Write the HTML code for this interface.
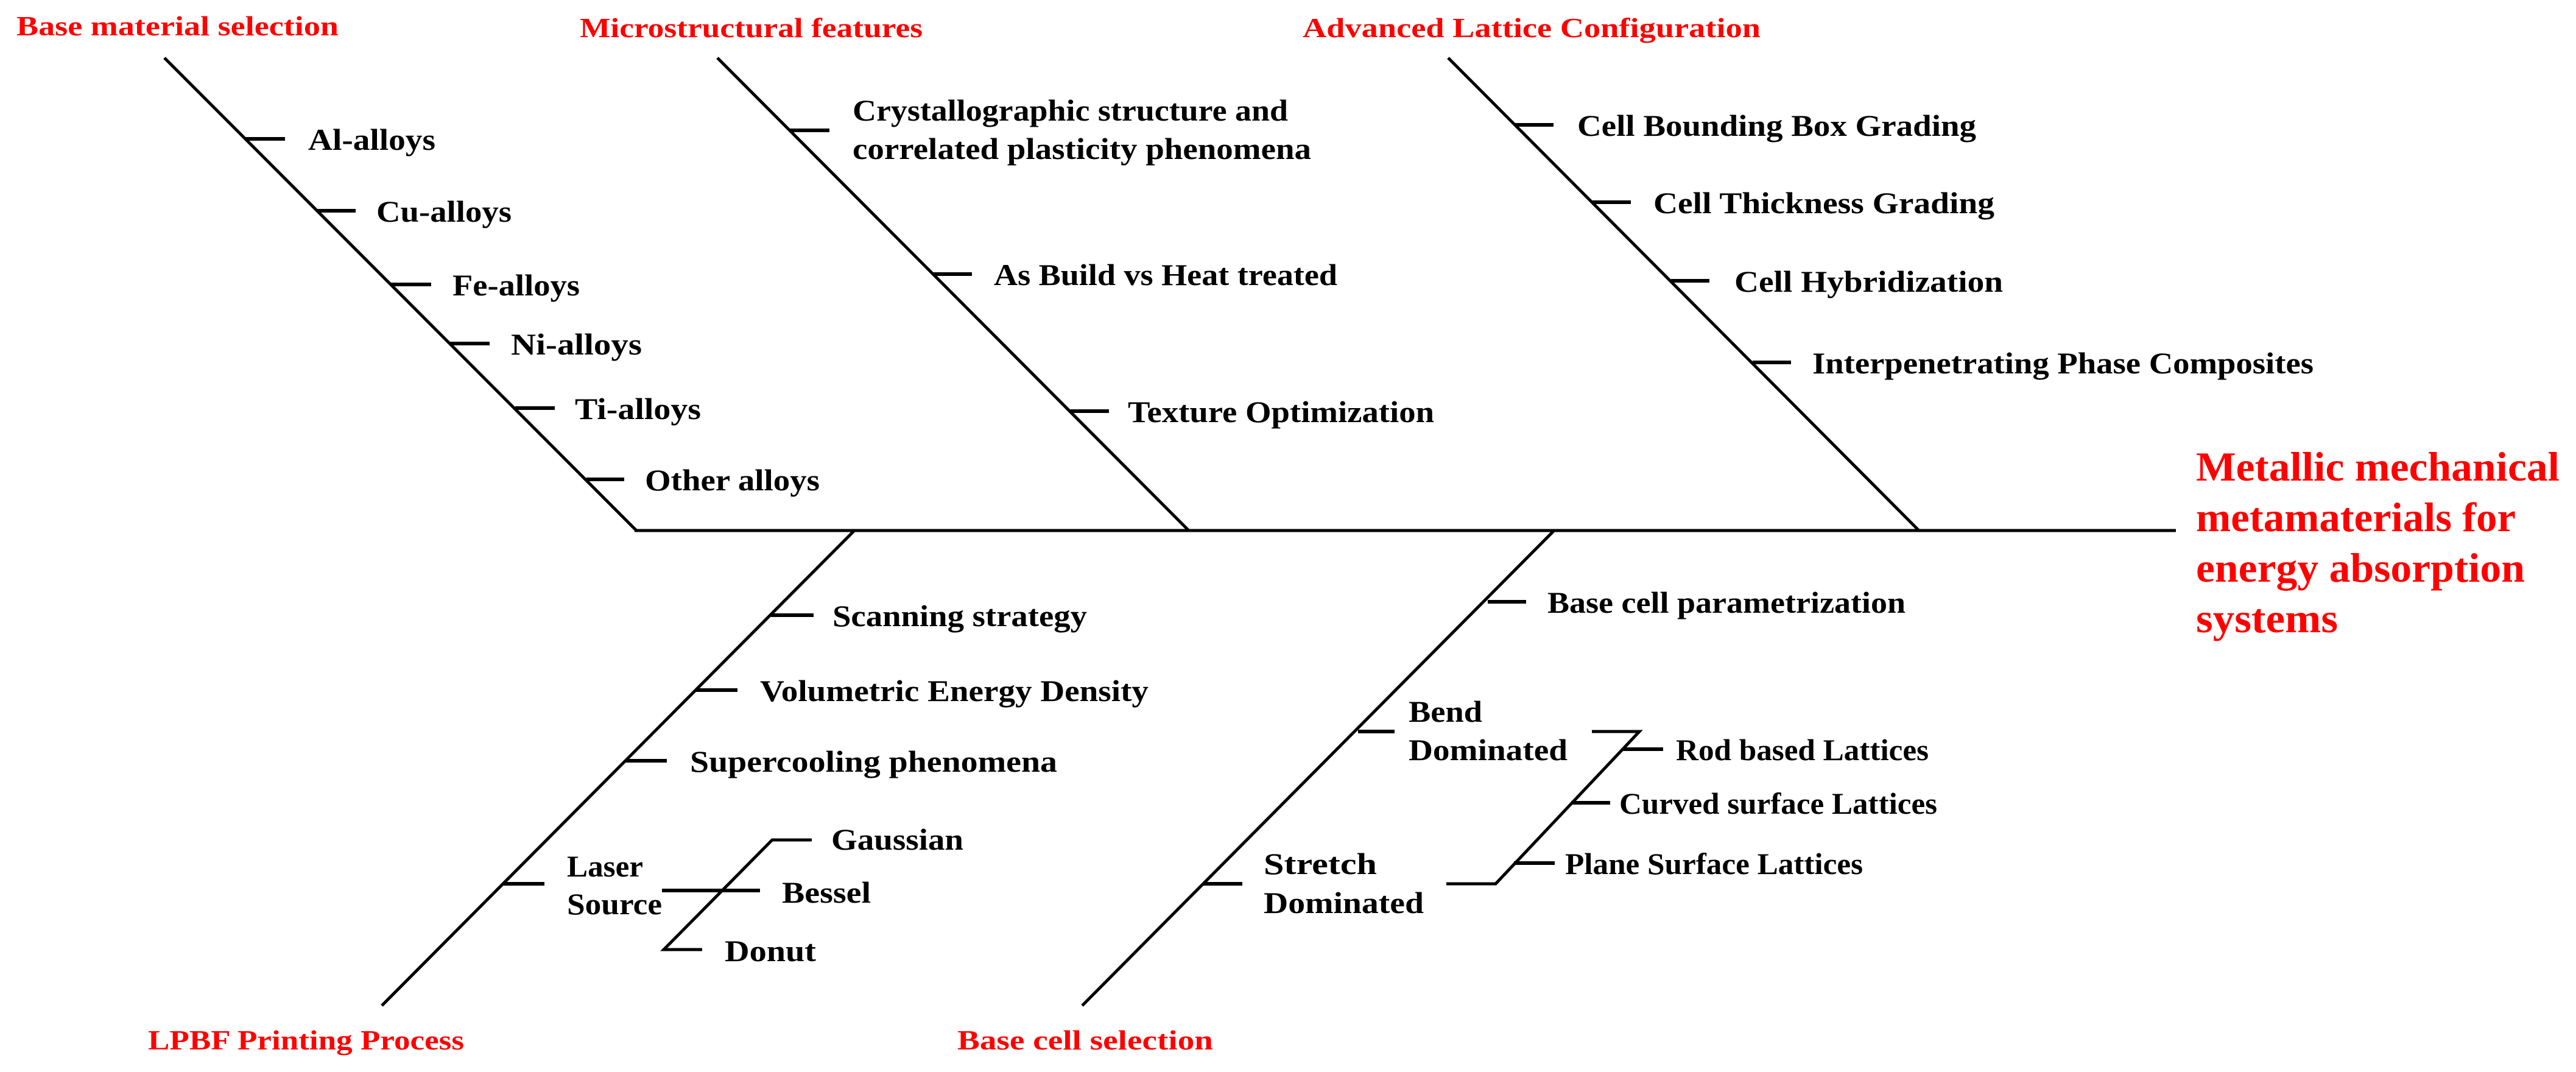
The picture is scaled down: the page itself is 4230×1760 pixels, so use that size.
<!DOCTYPE html>
<html><head><meta charset="utf-8"><style>html,body{margin:0;padding:0;background:#fff}svg{display:block}</style></head>
<body>
<svg width="4230" height="1760" viewBox="0 0 4230 1760" xmlns="http://www.w3.org/2000/svg">
<g stroke="#000" stroke-width="5" fill="none" stroke-linecap="butt">
<line x1="1042" y1="871" x2="3573" y2="871"/>
<line x1="270" y1="95" x2="1045" y2="871"/>
<line x1="1178" y1="95" x2="1952" y2="871"/>
<line x1="2378" y1="95" x2="3151" y2="871"/>
<line x1="1403" y1="871" x2="627" y2="1651"/>
<line x1="2552" y1="871" x2="1777" y2="1651"/>
</g>
<g stroke="#000" stroke-width="6" fill="none">
<line x1="403" y1="228" x2="468" y2="228"/>
<line x1="521" y1="346" x2="584" y2="346"/>
<line x1="641" y1="467" x2="708" y2="467"/>
<line x1="739" y1="564" x2="804" y2="564"/>
<line x1="846" y1="670" x2="911" y2="670"/>
<line x1="963" y1="787" x2="1025" y2="787"/>
<line x1="1297" y1="214" x2="1362" y2="214"/>
<line x1="1533" y1="450" x2="1596" y2="450"/>
<line x1="1757" y1="675" x2="1821" y2="675"/>
<line x1="2488" y1="205" x2="2551" y2="205"/>
<line x1="2615" y1="332" x2="2678" y2="332"/>
<line x1="2744" y1="461" x2="2807" y2="461"/>
<line x1="2878" y1="595" x2="2941" y2="595"/>
<line x1="1266" y1="1010" x2="1336" y2="1010"/>
<line x1="1143" y1="1133" x2="1211" y2="1133"/>
<line x1="1027" y1="1249" x2="1095" y2="1249"/>
<line x1="826" y1="1451" x2="894" y2="1451"/>
<line x1="1087" y1="1462" x2="1248" y2="1462"/>
<polyline points="1333,1379 1268,1379 1090,1559 1153,1559" stroke-width="5"/>
<line x1="2443" y1="988" x2="2506" y2="988"/>
<line x1="2230" y1="1201" x2="2290" y2="1201"/>
<line x1="1976" y1="1451" x2="2040" y2="1451"/>
<polyline points="2375,1451 2456,1451 2692,1201 2614,1201" stroke-width="5"/>
<line x1="2665" y1="1230" x2="2731" y2="1230"/>
<line x1="2580" y1="1318" x2="2644" y2="1318"/>
<line x1="2486" y1="1417" x2="2553" y2="1417"/>
</g>
<g font-family="'Liberation Serif', serif" font-weight="bold" fill="#ff0000" font-size="46">
<text x="27" y="58" textLength="529" lengthAdjust="spacingAndGlyphs">Base material selection</text>
<text x="952" y="61" textLength="563" lengthAdjust="spacingAndGlyphs">Microstructural features</text>
<text x="2139" y="61" textLength="752" lengthAdjust="spacingAndGlyphs">Advanced Lattice Configuration</text>
<text x="243" y="1723" textLength="519" lengthAdjust="spacingAndGlyphs">LPBF Printing Process</text>
<text x="1572" y="1723" textLength="420" lengthAdjust="spacingAndGlyphs">Base cell selection</text>
<g font-size="68">
<text x="3606" y="789" textLength="597" lengthAdjust="spacingAndGlyphs">Metallic mechanical</text>
<text x="3606" y="872" textLength="525" lengthAdjust="spacingAndGlyphs">metamaterials for</text>
<text x="3606" y="955" textLength="540" lengthAdjust="spacingAndGlyphs">energy absorption</text>
<text x="3606" y="1038" textLength="233" lengthAdjust="spacingAndGlyphs">systems</text>
</g>
</g>
<g font-family="'Liberation Serif', serif" font-weight="bold" fill="#000" font-size="50">
<text x="506" y="246" textLength="209" lengthAdjust="spacingAndGlyphs">Al-alloys</text>
<text x="618" y="364" textLength="222" lengthAdjust="spacingAndGlyphs">Cu-alloys</text>
<text x="743" y="485" textLength="209" lengthAdjust="spacingAndGlyphs">Fe-alloys</text>
<text x="839" y="582" textLength="215" lengthAdjust="spacingAndGlyphs">Ni-alloys</text>
<text x="944" y="688" textLength="207" lengthAdjust="spacingAndGlyphs">Ti-alloys</text>
<text x="1059" y="805" textLength="287" lengthAdjust="spacingAndGlyphs">Other alloys</text>
<text x="1400" y="198" textLength="715" lengthAdjust="spacingAndGlyphs">Crystallographic structure and</text>
<text x="1400" y="261" textLength="753" lengthAdjust="spacingAndGlyphs">correlated plasticity phenomena</text>
<text x="1632" y="468" textLength="564" lengthAdjust="spacingAndGlyphs">As Build vs Heat treated</text>
<text x="1852" y="693" textLength="503" lengthAdjust="spacingAndGlyphs">Texture Optimization</text>
<text x="2590" y="223" textLength="655" lengthAdjust="spacingAndGlyphs">Cell Bounding Box Grading</text>
<text x="2715" y="350" textLength="560" lengthAdjust="spacingAndGlyphs">Cell Thickness Grading</text>
<text x="2848" y="479" textLength="441" lengthAdjust="spacingAndGlyphs">Cell Hybridization</text>
<text x="2976" y="613" textLength="823" lengthAdjust="spacingAndGlyphs">Interpenetrating Phase Composites</text>
<text x="1367" y="1028" textLength="418" lengthAdjust="spacingAndGlyphs">Scanning strategy</text>
<text x="1248" y="1151" textLength="638" lengthAdjust="spacingAndGlyphs">Volumetric Energy Density</text>
<text x="1133" y="1267" textLength="603" lengthAdjust="spacingAndGlyphs">Supercooling phenomena</text>
<text x="931" y="1439" textLength="125" lengthAdjust="spacingAndGlyphs">Laser</text>
<text x="931" y="1501" textLength="156" lengthAdjust="spacingAndGlyphs">Source</text>
<text x="1365" y="1395" textLength="217" lengthAdjust="spacingAndGlyphs">Gaussian</text>
<text x="1284" y="1482" textLength="146" lengthAdjust="spacingAndGlyphs">Bessel</text>
<text x="1190" y="1578" textLength="150" lengthAdjust="spacingAndGlyphs">Donut</text>
<text x="2541" y="1006" textLength="588" lengthAdjust="spacingAndGlyphs">Base cell parametrization</text>
<text x="2313" y="1185" textLength="121" lengthAdjust="spacingAndGlyphs">Bend</text>
<text x="2313" y="1248" textLength="261" lengthAdjust="spacingAndGlyphs">Dominated</text>
<text x="2075" y="1435" textLength="186" lengthAdjust="spacingAndGlyphs">Stretch</text>
<text x="2075" y="1499" textLength="263" lengthAdjust="spacingAndGlyphs">Dominated</text>
<text x="2752" y="1248" textLength="415" lengthAdjust="spacingAndGlyphs">Rod based Lattices</text>
<text x="2659" y="1336" textLength="522" lengthAdjust="spacingAndGlyphs">Curved surface Lattices</text>
<text x="2570" y="1435" textLength="489" lengthAdjust="spacingAndGlyphs">Plane Surface Lattices</text>
</g>
</svg>
</body></html>
